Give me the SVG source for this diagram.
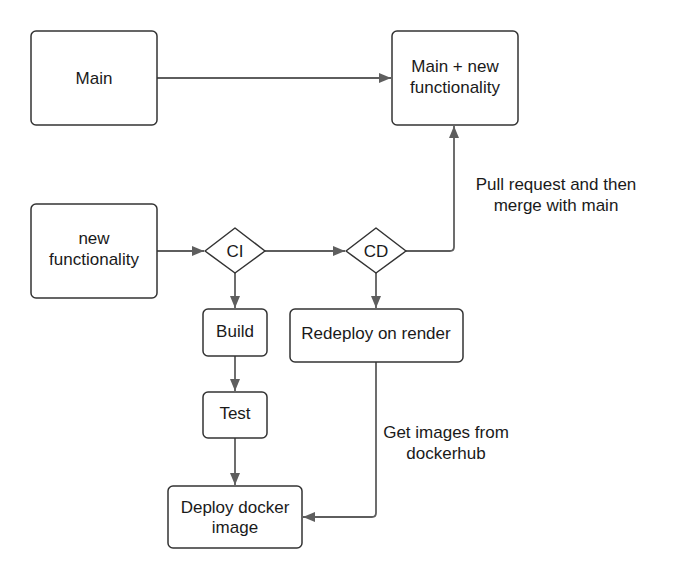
<svg xmlns="http://www.w3.org/2000/svg" width="682" height="580" viewBox="0 0 682 580">
<style>
.box{fill:#fff;stroke:#333;stroke-width:1.5}
.t{font-family:"Liberation Sans",Arial,sans-serif;font-size:17px;fill:#1a1a1a;text-anchor:middle}
.c{fill:none;stroke:#5e5e5e;stroke-width:1.8}
</style>
<defs>
<marker id="ah" markerWidth="12" markerHeight="10" refX="12" refY="5" orient="auto" markerUnits="userSpaceOnUse">
<path d="M0,0 L12,5 L0,10 Z" fill="#5e5e5e"/>
</marker>
</defs>
<rect width="682" height="580" fill="#fff"/>
<g id="connectors">
<path class="c" d="M157,78 H391" marker-end="url(#ah)"/>
<path class="c" d="M157,251 H204" marker-end="url(#ah)"/>
<path class="c" d="M265,251 H345" marker-end="url(#ah)"/>
<path class="c" d="M406,251 H450 Q454,251 454,247 V126" marker-end="url(#ah)"/>
<path class="c" d="M235,273 V308" marker-end="url(#ah)"/>
<path class="c" d="M376,273 V308" marker-end="url(#ah)"/>
<path class="c" d="M235,356 V391" marker-end="url(#ah)"/>
<path class="c" d="M235,438 V485" marker-end="url(#ah)"/>
<path class="c" d="M376,362 V513 Q376,517 372,517 H303" marker-end="url(#ah)"/>
<text class="t" x="556" y="190">Pull request and then</text>
<text class="t" x="556" y="211">merge with main</text>
<text class="t" x="446" y="438">Get images from</text>
<text class="t" x="446" y="459">dockerhub</text>
</g>
<g id="main">
<rect class="box" x="31" y="31" width="126" height="94" rx="5"/>
<text class="t" x="94" y="84">Main</text>
</g>
<g id="main-new">
<rect class="box" x="392" y="31" width="126" height="94" rx="5"/>
<text class="t" x="455" y="72">Main + new</text>
<text class="t" x="455" y="93">functionality</text>
</g>
<g id="new-functionality">
<rect class="box" x="31" y="204" width="126" height="94" rx="5"/>
<text class="t" x="94" y="244">new</text>
<text class="t" x="94" y="265">functionality</text>
</g>
<g id="ci">
<path class="box" d="M235,228 L265,251 L235,273 L205,251 Z" stroke-linejoin="round"/>
<text class="t" x="235" y="257">CI</text>
</g>
<g id="cd">
<path class="box" d="M376,228 L406,251 L376,273 L346,251 Z" stroke-linejoin="round"/>
<text class="t" x="376" y="257">CD</text>
</g>
<g id="build">
<rect class="box" x="203" y="309" width="64" height="47" rx="5"/>
<text class="t" x="235" y="337">Build</text>
</g>
<g id="redeploy">
<rect class="box" x="290" y="309" width="173" height="53" rx="5"/>
<text class="t" x="376" y="339">Redeploy on render</text>
</g>
<g id="test">
<rect class="box" x="203" y="392" width="64" height="46" rx="5"/>
<text class="t" x="235" y="419">Test</text>
</g>
<g id="deploy">
<rect class="box" x="168" y="486" width="134" height="62" rx="5"/>
<text class="t" x="235" y="513">Deploy docker</text>
<text class="t" x="235" y="533">image</text>
</g>
</svg>
